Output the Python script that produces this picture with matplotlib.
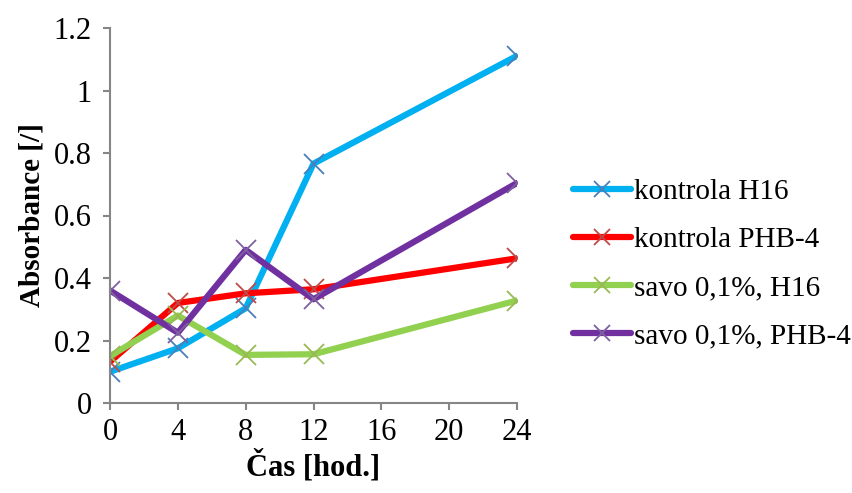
import matplotlib
matplotlib.use("Agg")
import matplotlib.pyplot as plt

hours = [0, 4, 8, 12, 24]
kontrola_h16 = [0.10, 0.175, 0.303, 0.766, 1.111]
kontrola_phb4 = [0.132, 0.32, 0.351, 0.364, 0.463]
savo_h16 = [0.15, 0.28, 0.154, 0.156, 0.328]
savo_phb4 = [0.36, 0.225, 0.49, 0.332, 0.704]

labels = ["kontrola H16", "kontrola PHB-4", "savo 0,1%, H16", "savo 0,1%, PHB-4"]
line_colors = ["#00b0f0", "#ff0000", "#92d050", "#7030a0"]
marker_colors = ["#4a7ebb", "#be4b48", "#98b954", "#7d60a0"]
x_ticks = [0, 4, 8, 12, 16, 20, 24]
y_ticks = [0, 0.2, 0.4, 0.6, 0.8, 1, 1.2]
y_ticklabels = ["0", "0.2", "0.4", "0.6", "0.8", "1", "1.2"]

plt.rcParams['font.family'] = ['Liberation Serif', 'DejaVu Serif']

fig = plt.figure(figsize=(8.53, 4.93), dpi=100)
ax = fig.add_axes([110/853, 90/493, (517-110)/853, (403-28)/493])

series = [kontrola_h16, kontrola_phb4, savo_h16, savo_phb4]
for vals, lab, lc, mc in zip(series, labels, line_colors, marker_colors):
    ax.plot(hours, vals, color=lc, lw=4.5, marker='x', markersize=15,
            markeredgecolor=mc, markeredgewidth=1.3, label=lab,
            solid_joinstyle='round', solid_capstyle='round')

ax.set_xlim(0, 24)
ax.set_ylim(0, 1.2)
ax.set_xticks(x_ticks)
ax.set_yticks(y_ticks)
ax.set_yticklabels(y_ticklabels)
for s in ['top', 'right']:
    ax.spines[s].set_visible(False)
for s in ['left', 'bottom']:
    ax.spines[s].set_color('#868686')
    ax.spines[s].set_linewidth(1.5)
ax.tick_params(axis='both', colors='#868686', length=5, width=1.5,
               labelsize=22, labelcolor='black', direction='out')
ax.tick_params(axis='y', pad=8)
ax.tick_params(axis='x', pad=6)
ax.set_xlabel("Čas [hod.]", fontsize=22, fontweight='bold', labelpad=2)
ax.set_ylabel("Absorbance [/]", fontsize=21, fontweight='bold', labelpad=6)

handles, lbls = ax.get_legend_handles_labels()
leg = fig.legend(handles, lbls, loc='upper left', bbox_to_anchor=(561/853, 1 - 167/493),
                 frameon=False, fontsize=21, handlelength=2.0,
                 handletextpad=0.1, labelspacing=0.74, borderaxespad=0,
                 markerscale=0.8)

fig.savefig("out.png", dpi=100)
